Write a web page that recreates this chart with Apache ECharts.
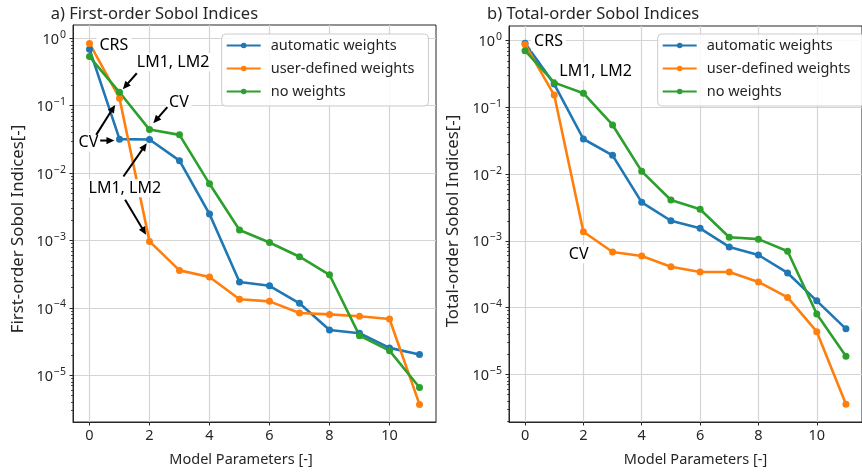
<!DOCTYPE html>
<html>
<head>
<meta charset="utf-8">
<script src="https://cdn.jsdelivr.net/npm/echarts@6/dist/echarts.min.js"></script>
<style>
  html, body { margin: 0; padding: 0; background: #ffffff; }
  #chart { width: 862px; height: 472px; }
</style>
</head>
<body>
<div id="chart"></div>
<script>
// Model parameter index on the x axis
const params = [0, 1, 2, 3, 4, 5, 6, 7, 8, 9, 10, 11];

// a) First-order Sobol indices
const firstAuto = [0.69, 0.0319, 0.0315, 0.0153, 0.00247, 2.42e-4, 2.13e-4, 1.17e-4, 4.7e-5, 4.2e-5, 2.55e-5, 2.03e-5];
const firstUser = [0.84, 0.129, 9.7e-4, 3.6e-4, 2.87e-4, 1.34e-4, 1.25e-4, 8.4e-5, 8.0e-5, 7.5e-5, 6.85e-5, 3.7e-6];
const firstNone = [0.535, 0.158, 0.0442, 0.0369, 0.00693, 1.43e-3, 9.35e-4, 5.74e-4, 3.1e-4, 3.87e-5, 2.32e-5, 6.6e-6];

// b) Total-order Sobol indices
const totalAuto = [0.914, 0.224, 0.0336, 0.0191, 0.00378, 0.0020, 0.00154, 8.1e-4, 6.14e-4, 3.3e-4, 1.26e-4, 4.8e-5];
const totalUser = [0.88, 0.153, 1.37e-3, 6.8e-4, 5.93e-4, 4.1e-4, 3.41e-4, 3.41e-4, 2.42e-4, 1.42e-4, 4.35e-5, 3.55e-6];
const totalNone = [0.708, 0.235, 0.163, 0.0545, 0.0110, 0.00409, 0.00297, 1.13e-3, 1.06e-3, 7.0e-4, 8.0e-5, 1.86e-5];

const seriesNames = ['automatic weights', 'user-defined weights', 'no weights'];
const xTicks = [0, 2, 4, 6, 8, 10];
const yTicks = [1e-5, 1e-4, 1e-3, 1e-2, 1e-1, 1];

// Annotation texts: [text, x, y] at the left edge / vertical middle of the text
const notesFirst = [
  ['CRS', 0.333, 0.796],
  ['LM1, LM2', 1.576, 0.441],
  ['CV', 2.651, 0.111],
  ['CV', -0.366, 0.0284],
  ['LM1, LM2', -0.033, 0.00598]
];
const notesTotal = [
  ['CRS', 0.310, 0.966],
  ['LM1, LM2', 1.175, 0.343],
  ['CV', 1.499, 6.29e-4]
];
// Arrows: [[tailX, tailY], [tipX, tipY]]
const arrowsFirst = [
  [[1.576, 0.303], [1.111, 0.1754]],
  [[2.594, 0.0950], [2.128, 0.0550]],
  [[0.223, 0.0369], [0.855, 0.1027]],
  [[0.356, 0.0304], [0.831, 0.0304]],
  [[1.131, 0.00889], [1.909, 0.0278]],
  [[1.187, 0.00402], [1.886, 0.00122]]
];

const colors = ['#1f77b4', '#ff7f0e', '#2ca02c'];
const FONT = "'Noto Sans', 'DejaVu Sans', sans-serif";
const INK = '#262626';

// minor tick values (2..9 x 10^k) for the log axes
const minorTicks = [];
for (let k = -6; k <= 0; k++) {
  for (let m = 2; m <= 9; m++) minorTicks.push(+(m * Math.pow(10, k)).toPrecision(3));
}

const xRange = [-0.55, 11.55];
const yRangeFirst = [Math.pow(10, -5.693), Math.pow(10, 0.197)];
const yRangeTotal = [Math.pow(10, -5.715), Math.pow(10, 0.220)];

function powLabel(v) {
  const e = Math.round(Math.log10(v));
  return '{b|10}{s|' + (e < 0 ? '\u2212' + (-e) : String(e)) + '}';
}

function xAxisFor(gridIndex) {
  return {
    type: 'value', gridIndex: gridIndex, min: xRange[0], max: xRange[1],
    axisLine: { show: true, onZero: false, lineStyle: { color: INK, width: 1 } },
    axisTick: { show: true, length: 3.5, customValues: xTicks, lineStyle: { color: INK, width: 1 } },
    axisLabel: { customValues: xTicks, margin: 6, color: INK, fontSize: 14.5, fontFamily: FONT },
    splitLine: { show: true, lineStyle: { color: '#d4d4d4', width: 1.2 } }
  };
}

function yAxisFor(gridIndex, range) {
  return {
    type: 'log', logBase: 10, gridIndex: gridIndex, position: 'left', min: range[0], max: range[1],
    axisLine: { show: true, onZero: false, lineStyle: { color: INK, width: 1 } },
    axisTick: { show: true, length: 3.5, customValues: yTicks, lineStyle: { color: INK, width: 1 } },
    axisLabel: {
      customValues: yTicks, margin: 7, formatter: powLabel,
      rich: {
        b: { fontSize: 14.5, fontFamily: FONT, color: INK, lineHeight: 18, verticalAlign: 'bottom' },
        s: { fontSize: 10.5, fontFamily: FONT, color: INK, verticalAlign: 'top', padding: [0, 0, 0, 1] }
      }
    },
    splitLine: { show: true, lineStyle: { color: '#d4d4d4', width: 1.2 } }
  };
}

function minorAxisFor(gridIndex, range) {
  return {
    type: 'log', logBase: 10, gridIndex: gridIndex, position: 'left', min: range[0], max: range[1],
    axisLine: { show: false, onZero: false },
    axisTick: { show: true, length: 2, customValues: minorTicks.filter(v => v > range[0] && v < range[1]), lineStyle: { color: INK, width: 0.8 } },
    axisLabel: { show: false },
    splitLine: { show: false }
  };
}

function lineSeries(name, values, i, xi, yi) {
  return {
    type: 'line', name: name, xAxisIndex: xi, yAxisIndex: yi,
    data: params.map((p, j) => [p, values[j]]),
    symbol: 'circle', symbolSize: 7, showAllSymbol: true,
    lineStyle: { color: colors[i], width: 2.6 },
    itemStyle: { color: colors[i] },
    emphasis: { disabled: true }
  };
}

function legendAt(left) {
  return {
    orient: 'vertical', left: left, top: 34,
    data: seriesNames,
    itemWidth: 34, itemHeight: 7, itemGap: 6,
    padding: [3, 14, 6, 4],
    backgroundColor: 'rgba(255,255,255,0.85)',
    borderColor: '#cccccc', borderWidth: 1, borderRadius: 4,
    textStyle: { fontSize: 14.5, fontFamily: FONT, color: INK, lineHeight: 17, padding: [0, 0, 0, 5] },
    selectedMode: false
  };
}

const chart = echarts.init(document.getElementById('chart'), null, { renderer: 'canvas' });

const option = {
  animation: false,
  backgroundColor: '#ffffff',
  grid: [
    { left: 73, top: 25, width: 363, height: 397, show: true, borderColor: INK, borderWidth: 1, backgroundColor: 'transparent' },
    { left: 509, top: 26, width: 363.5, height: 396, show: true, borderColor: INK, borderWidth: 1, backgroundColor: 'transparent' }
  ],
  xAxis: [xAxisFor(0), xAxisFor(1)],
  yAxis: [yAxisFor(0, yRangeFirst), minorAxisFor(0, yRangeFirst), yAxisFor(1, yRangeTotal), minorAxisFor(1, yRangeTotal)],
  legend: [legendAt(221.7), legendAt(657.7)],
  series: [
    lineSeries(seriesNames[0], firstAuto, 0, 0, 0),
    lineSeries(seriesNames[1], firstUser, 1, 0, 0),
    lineSeries(seriesNames[2], firstNone, 2, 0, 0),
    lineSeries(seriesNames[0], totalAuto, 0, 1, 2),
    lineSeries(seriesNames[1], totalUser, 1, 1, 2),
    lineSeries(seriesNames[2], totalNone, 2, 1, 2)
  ]
};
chart.setOption(option);

// Titles, axis names, annotations and arrows
const graphics = [];
function addText(text, x, y, size, opts) {
  graphics.push(Object.assign({
    type: 'text', x: x, y: y, z: 50, silent: true,
    style: Object.assign({ text: text, fontSize: size, fontFamily: FONT, fill: INK, align: 'left', verticalAlign: 'middle' }, (opts && opts.style) || {})
  }, (opts && opts.el) || {}));
}
addText('a) First-order Sobol Indices', 50.7, 14, 16.5);
addText('b) Total-order Sobol Indices', 487, 14, 16.5);
addText('Model Parameters [-]', 241, 460, 14.5, { style: { align: 'center' } });
addText('Model Parameters [-]', 695.5, 460, 14.5, { style: { align: 'center' } });
addText('First-order Sobol Indices[-]', 18, 229, 16.8, { style: { align: 'center' }, el: { rotation: Math.PI / 2 } });
addText('Total-order Sobol Indices[-]', 453, 221, 16.8, { style: { align: 'center' }, el: { rotation: Math.PI / 2 } });

function addNotes(notes, gridIndex) {
  notes.forEach(n => {
    const p = chart.convertToPixel({ gridIndex: gridIndex }, [n[1], n[2]]);
    addText(n[0], p[0] - 3, p[1], 16, { style: { fill: '#000000', backgroundColor: '#ffffff', padding: [1, 3, 1, 3] } });
  });
}
addNotes(notesFirst, 0);
addNotes(notesTotal, 1);

arrowsFirst.forEach(a => {
  const t = chart.convertToPixel({ gridIndex: 0 }, a[0]);
  const h = chart.convertToPixel({ gridIndex: 0 }, a[1]);
  const dx = h[0] - t[0], dy = h[1] - t[1];
  const len = Math.sqrt(dx * dx + dy * dy);
  const ux = dx / len, uy = dy / len;
  const headLen = 8, headHalf = 3.6;
  const bx = h[0] - ux * headLen, by = h[1] - uy * headLen;
  graphics.push({
    type: 'line', z: 60, silent: true,
    shape: { x1: t[0], y1: t[1], x2: bx + ux * 1, y2: by + uy * 1 },
    style: { stroke: '#000000', lineWidth: 2 }
  });
  graphics.push({
    type: 'polygon', z: 60, silent: true,
    shape: { points: [[h[0], h[1]], [bx - uy * headHalf, by + ux * headHalf], [bx + uy * headHalf, by - ux * headHalf]] },
    style: { fill: '#000000' }
  });
});

chart.setOption({ graphic: graphics });
</script>
</body>
</html>
